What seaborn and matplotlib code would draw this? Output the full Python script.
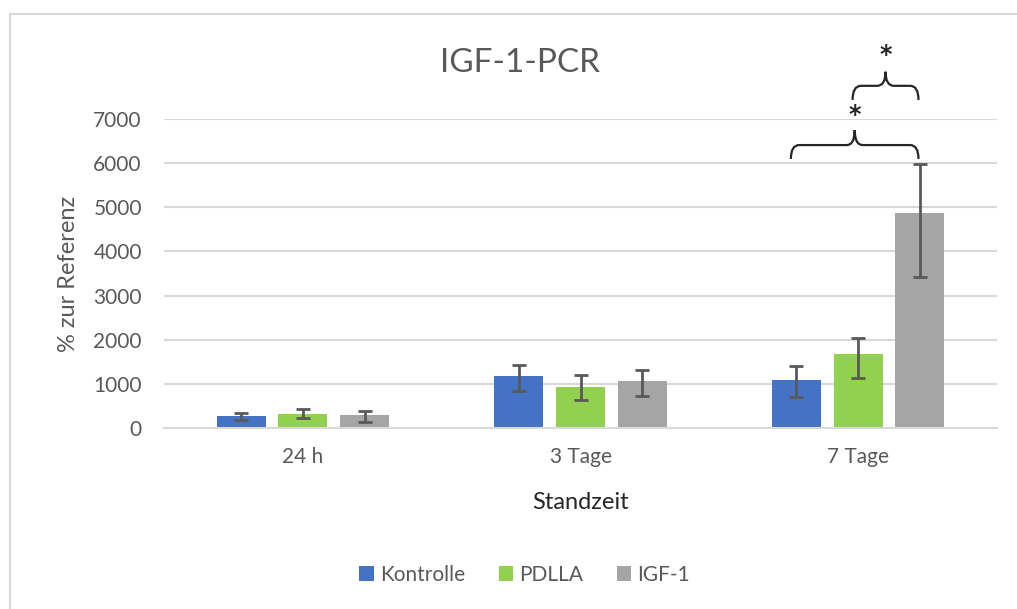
import numpy as np
import pandas as pd
import matplotlib
matplotlib.use('Agg')
import matplotlib.pyplot as plt
from matplotlib.path import Path
from matplotlib.patches import PathPatch, Rectangle
import seaborn as sns

# data
zeiten = ['24 h', '3 Tage', '7 Tage']
gruppen = ['Kontrolle', 'PDLLA', 'IGF-1']
werte = {
    'Kontrolle': [255, 1180, 1090],
    'PDLLA': [320, 930, 1670],
    'IGF-1': [280, 1050, 4880],
}
fehler_unten = {
    'Kontrolle': [80, 340, 400],
    'PDLLA': [110, 300, 550],
    'IGF-1': [145, 325, 1470],
}
fehler_oben = {
    'Kontrolle': [80, 250, 320],
    'PDLLA': [105, 265, 375],
    'IGF-1': [110, 255, 1110],
}
farben = ['#4472C4', '#92D050', '#A5A5A5']

sns.set_style('white')
plt.rcParams['font.family'] = ['Lato', 'DejaVu Sans']

rows = []
for g in gruppen:
    for z, v in zip(zeiten, werte[g]):
        rows.append({'Standzeit': z, 'Gruppe': g, 'Wert': v})
df = pd.DataFrame(rows)

fig = plt.figure(figsize=(10.17, 6.09), dpi=100)
ax = fig.add_axes([0.1613, 0.2977, 0.8190, 0.5064])

sns.barplot(data=df, x='Standzeit', y='Wert', hue='Gruppe', order=zeiten,
            hue_order=gruppen, palette=farben, width=0.667, gap=0.21,
            errorbar=None, saturation=1, edgecolor='none', ax=ax, zorder=2)

# error bars on top of each bar
centers = {}
for g, cont in zip(gruppen, ax.containers):
    xs = [p.get_x() + p.get_width() / 2 for p in cont.patches]
    hs = [p.get_height() for p in cont.patches]
    centers[g] = xs
    ax.errorbar(xs, hs, yerr=[fehler_unten[g], fehler_oben[g]], fmt='none',
                ecolor='#595959', elinewidth=2, capsize=5, capthick=2, zorder=3)

ax.set_ylim(0, 7000)
ax.set_xlim(-0.5, 2.5)
ax.set_yticks(range(0, 7001, 1000))
ax.yaxis.grid(True, color='#D9D9D9', linewidth=1.5, zorder=0)
ax.set_axisbelow(True)
for s in ['top', 'right', 'left']:
    ax.spines[s].set_visible(False)
ax.spines['bottom'].set_color('#D9D9D9')
ax.spines['bottom'].set_linewidth(1.5)
ax.tick_params(axis='both', length=0, labelsize=15, labelcolor='#595959')
ax.tick_params(axis='x', pad=14)
ax.tick_params(axis='y', pad=16)

ax.set_xlabel('Standzeit', fontsize=17, color='#262626', labelpad=18)
ax.set_ylabel('% zur Referenz', fontsize=17, color='#595959', labelpad=10)
fig.text(0.511, 1 - 63 / 609, 'IGF-1-PCR', fontsize=24, color='#595959',
         ha='center', va='center')


def klammer(ax, xl, xr, yb, yh, yp, rx=0.03):
    xm = (xl + xr) / 2
    verts = [(xl, yb), (xl, yh), (xl + rx, yh),
             (xm - rx, yh), (xm, yh), (xm, yp),
             (xm, yh), (xm + rx, yh),
             (xr - rx, yh), (xr, yh), (xr, yb)]
    codes = [Path.MOVETO, Path.CURVE3, Path.CURVE3,
             Path.LINETO, Path.CURVE3, Path.CURVE3,
             Path.CURVE3, Path.CURVE3,
             Path.LINETO, Path.CURVE3, Path.CURVE3]
    ax.add_patch(PathPatch(Path(verts, codes), fill=False, edgecolor='#262626',
                           linewidth=1.6, clip_on=False, zorder=4))
    return xm


# significance braces for 7 Tage
xm1 = klammer(ax, centers['Kontrolle'][2] - 0.02, centers['IGF-1'][2] - 0.005,
              6100, 6415, 6755)
ax.text(xm1, 7100, '*', ha='center', va='center', fontsize=17,
        fontweight='bold', family='DejaVu Sans', color='#262626', clip_on=False)
xm2 = klammer(ax, centers['PDLLA'][2] - 0.02, centers['IGF-1'][2] - 0.005,
              7440, 7760, 8080)
ax.text(xm2, 8450, '*', ha='center', va='center', fontsize=17,
        fontweight='bold', family='DejaVu Sans', color='#262626', clip_on=False)

leg = ax.legend(loc='center', bbox_to_anchor=(0.516, 0.056),
                bbox_transform=fig.transFigure, ncol=3, frameon=False,
                fontsize=15, handlelength=0.7, handleheight=0.7,
                handletextpad=0.3, columnspacing=1.6)
for t in leg.get_texts():
    t.set_color('#595959')

# chart border
fig.patches.append(Rectangle((0.0098, -0.05), 1.05, 0.977 + 0.05,
                             transform=fig.transFigure, fill=False,
                             edgecolor='#D9D9D9', linewidth=1.5))

fig.savefig('out.png', dpi=100)
plt.close(fig)
